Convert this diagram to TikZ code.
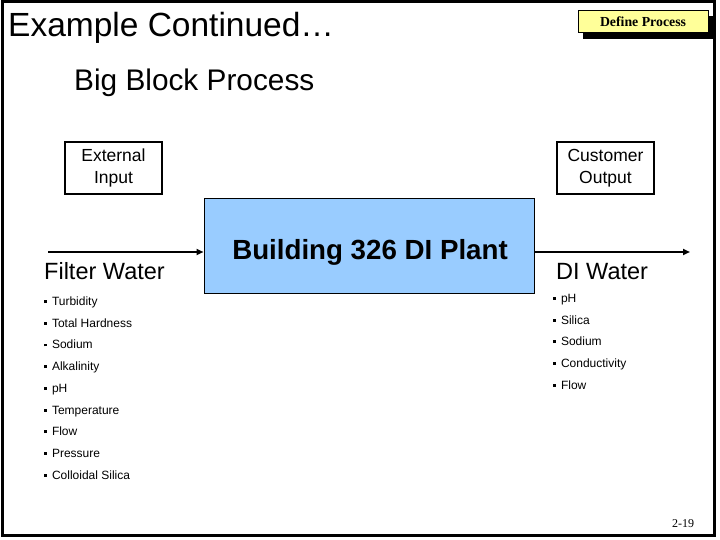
\documentclass[tikz,border=0pt]{standalone}
\usepackage{fontspec}
\setmainfont{Liberation Sans}
\newfontfamily\timesf{Liberation Serif}
\usetikzlibrary{arrows.meta}
\tikzset{
  lbl/.style={inner sep=0pt, anchor=base west, font=\fontsize{12}{14}\selectfont},
  smallbox/.style={draw, line width=1.5pt, minimum width=97pt, minimum height=52pt, align=center, font=\fontsize{17.5}{22}\selectfont, inner sep=0pt},
  flow/.style={line width=2.5pt, -{Triangle[length=7pt,width=6pt]}},
}
\newcommand{\sqb}{\rule[2.5pt]{2.8pt}{2.8pt}\hspace{5pt}}
\begin{document}
\begin{tikzpicture}[x=1pt,y=-1pt]
\useasboundingbox (0,0) rectangle (720,540);
\fill[white] (0,0) rectangle (720,540);
% frame
\draw[line width=3pt] (2.5,1.5) rectangle (714.5,535.5);
% title
\node[anchor=base west, inner sep=0pt, font=\fontsize{33.5}{36}\selectfont] (title) at (8,37) {Example Continued…};
% define process button
\fill[black] (583,16) rectangle (713,39);
\node[draw, line width=1pt, fill={rgb,255:red,255;green,255;blue,153}, minimum width=130pt, minimum height=22pt, inner sep=0pt, font=\timesf\bfseries\fontsize{13.8}{15}\selectfont] (def) at (643,22) {Define Process};
% subtitle
\node[anchor=base west, inner sep=0pt, font=\fontsize{29.8}{32}\selectfont] (sub) at (74,91) {Big Block Process};
% small boxes
\node[smallbox] (ext) at (113.5,168) {External\\Input};
\node[smallbox] (cust) at (605.5,168) {Customer\\Output};
% main block
\node[draw, line width=1pt, fill={rgb,255:red,153;green,204;blue,255}, minimum width=330pt, minimum height=94pt, inner sep=0pt] (plant) at (369,246) {};
\node[anchor=base, inner sep=0pt, font=\bfseries\fontsize{27.7}{30}\selectfont] (plantlbl) at (370,259) {Building 326 DI Plant};
% arrows
\coordinate (inS) at (48,252);
\coordinate (outE) at (690,252);
\draw[flow] (inS) -- (plant.west |- inS);
\draw[flow] (plant.east |- outE) -- (outE);
% flow labels
\node[anchor=base west, inner sep=0pt, font=\fontsize{23.5}{26}\selectfont] (fw) at (44,279) {Filter Water};
\node[anchor=base west, inner sep=0pt, font=\fontsize{23.5}{26}\selectfont] (diw) at (556,279) {DI Water};
% left bullets
\node[lbl] (l1) at (44,305.5) {\sqb Turbidity};
\node[lbl] (l2) at (44,327.2) {\sqb Total Hardness};
\node[lbl] (l3) at (44,348.9) {\sqb Sodium};
\node[lbl] (l4) at (44,370.6) {\sqb Alkalinity};
\node[lbl] (l5) at (44,392.3) {\sqb pH};
\node[lbl] (l6) at (44,414) {\sqb Temperature};
\node[lbl] (l7) at (44,435.7) {\sqb Flow};
\node[lbl] (l8) at (44,457.4) {\sqb Pressure};
\node[lbl] (l9) at (44,479.1) {\sqb Colloidal Silica};
% right bullets
\node[lbl] (r1) at (553,302.3) {\sqb pH};
\node[lbl] (r2) at (553,324) {\sqb Silica};
\node[lbl] (r3) at (553,345.7) {\sqb Sodium};
\node[lbl] (r4) at (553,367.4) {\sqb Conductivity};
\node[lbl] (r5) at (553,389.1) {\sqb Flow};
% page number
\node[anchor=base west, inner sep=0pt, font=\timesf\fontsize{12}{14}\selectfont] (pg) at (672,527) {2-19};
\end{tikzpicture}
\end{document}
